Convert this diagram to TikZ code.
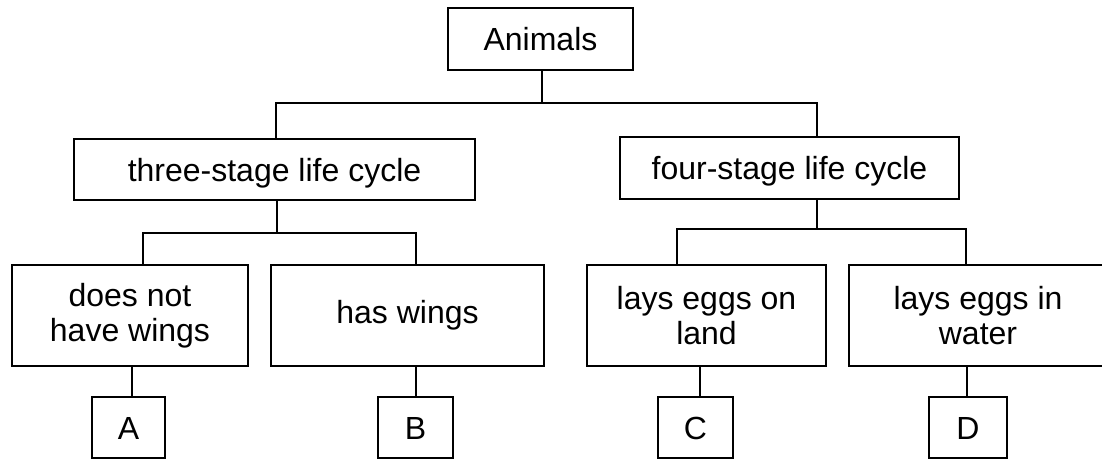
\documentclass[tikz,border=0pt]{standalone}
\usepackage{fontspec}
\setmainfont{Liberation Sans}
\begin{document}
\begin{tikzpicture}[x=1pt,y=-1pt,
  box/.style={draw,line width=2pt,inner sep=0pt,align=center,
    font=\fontsize{32}{35}\selectfont},
  one/.style={box,text height=23pt,text depth=0pt},
  wire/.style={line width=2pt}]
\useasboundingbox (0,0) rectangle (1102,461);
% nodes
\node[one,minimum width=185pt,minimum height=62pt] (animals) at (540.5,39) {Animals};
\node[one,minimum width=401pt,minimum height=61pt] (three) at (274.5,169.5) {three-stage life cycle};
\node[one,minimum width=339pt,minimum height=62pt] (four) at (789.5,168) {four-stage life cycle};
\node[box,minimum width=236pt,minimum height=101pt] (dnw) at (130,315.5) {does not\\have wings};
\node[box,minimum width=273pt,minimum height=101pt] (hw) at (407.5,315.5) {has wings};
\node[box,minimum width=239pt,minimum height=101pt] (land) at (706.5,315.5) {lays eggs on\\land};
\node[box,minimum width=258pt,minimum height=101pt] (water) at (978,315.5) {lays eggs in\\water};
\node[one,minimum width=73pt,minimum height=61pt] (A) at (128.5,427.5) {A};
\node[one,minimum width=75pt,minimum height=61pt] (B) at (415.5,427.5) {B};
\node[one,minimum width=75pt,minimum height=61pt] (C) at (695.5,427.5) {C};
\node[one,minimum width=78pt,minimum height=61pt] (D) at (968,427.5) {D};
% connector points
\coordinate (c0) at (542,103);
\coordinate (t1) at (276,103);
\coordinate (t2) at (817,103);
\coordinate (l0) at (277,233);
\coordinate (l1) at (143,233);
\coordinate (l2) at (416,233);
\coordinate (r0) at (817,229);
\coordinate (r1) at (677,229);
\coordinate (r2) at (966,229);
\coordinate (a0) at (132,380);
\coordinate (b0) at (416,380);
\coordinate (cc) at (700,380);
\coordinate (d0) at (967,380);
% connectors
\draw[wire] (animals.south -| c0) -- (c0);
\draw[wire] (three.north -| t1) -- (t1) -- (t2) -- (four.north -| t2);
\draw[wire] (three.south -| l0) -- (l0);
\draw[wire] (dnw.north -| l1) -- (l1) -- (l2) -- (hw.north -| l2);
\draw[wire] (four.south -| r0) -- (r0);
\draw[wire] (land.north -| r1) -- (r1) -- (r2) -- (water.north -| r2);
\draw[wire] (dnw.south -| a0) -- (A.north -| a0);
\draw[wire] (hw.south -| b0) -- (B.north -| b0);
\draw[wire] (land.south -| cc) -- (C.north -| cc);
\draw[wire] (water.south -| d0) -- (D.north -| d0);
\end{tikzpicture}
\end{document}
